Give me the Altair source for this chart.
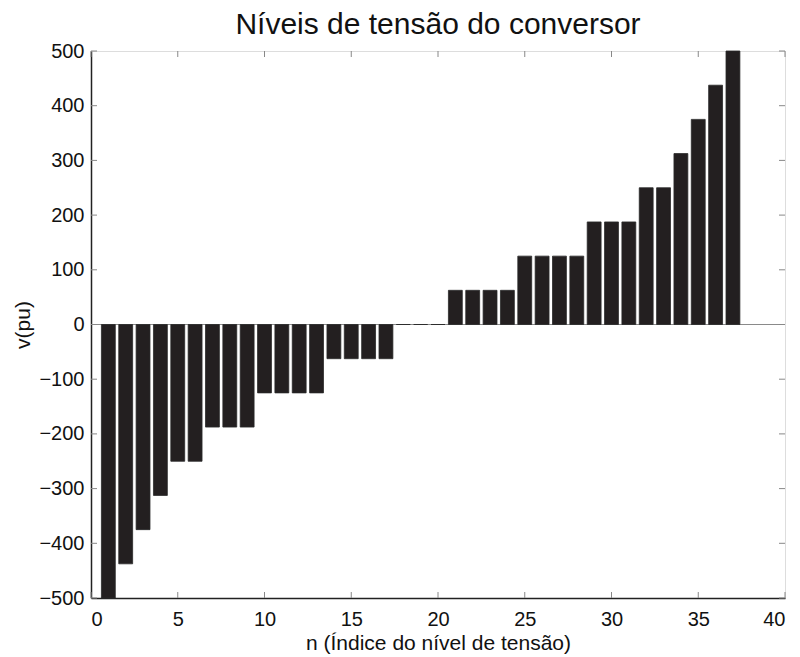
import altair as alt
import pandas as pd

n_values = list(range(1, 38))
v_values = [-500, -437.5, -375, -312.5, -250, -250, -187.5, -187.5, -187.5,
            -125, -125, -125, -125, -62.5, -62.5, -62.5, -62.5, 0, 0, 0,
            62.5, 62.5, 62.5, 62.5, 125, 125, 125, 125, 187.5, 187.5, 187.5,
            250, 250, 312.5, 375, 437.5, 500]
x_ticks = [0, 5, 10, 15, 20, 25, 30, 35, 40]
y_ticks = [-500, -400, -300, -200, -100, 0, 100, 200, 300, 400, 500]

W, H = 694, 547
FONT = "Liberation Sans"

bars_df = pd.DataFrame({"n": n_values, "v": v_values})
xt_df = pd.DataFrame({"t": x_ticks})
yt_df = pd.DataFrame({"t": y_ticks})

xscale = alt.Scale(domain=[0, 40], nice=False, zero=False)
yscale = alt.Scale(domain=[-500, 500], nice=False)

xaxis = alt.Axis(values=x_ticks, tickSize=0, labelFontSize=20, labelColor="#111",
                 labelFont=FONT, labelPadding=11, title="n (Índice do nível de tensão)",
                 titleFont=FONT, titleFontSize=21, titleFontWeight="normal", titleColor="#111",
                 titlePadding=3, domainColor="#222", domainWidth=1.5, grid=False)
yaxis = alt.Axis(values=y_ticks, tickSize=0, labelFontSize=20, labelColor="#111",
                 labelFont=FONT, labelPadding=7, title="v(pu)",
                 titleFont=FONT, titleFontSize=21, titleFontWeight="normal", titleColor="#111",
                 titlePadding=5, domainColor="#222", domainWidth=1.5, grid=False)

bars = alt.Chart(bars_df).transform_calculate(
    lo="datum.n - 0.4", hi="datum.n + 0.4"
).mark_rect(color="#231f20", stroke="#2a2a2a", strokeWidth=0.8).encode(
    x=alt.X("lo:Q", scale=xscale, axis=xaxis),
    x2="hi:Q",
    y=alt.Y("v:Q", scale=yscale, axis=yaxis),
    y2=alt.datum(0),
)

zero_line = alt.Chart(pd.DataFrame({"z": [0]})).mark_rule(color="#8a8a8a", strokeWidth=1).encode(
    y=alt.Y("z:Q", scale=yscale),
)

xt_bottom = alt.Chart(xt_df).mark_rule(color="#888", strokeWidth=1).encode(
    x=alt.X("t:Q", scale=xscale), y=alt.value(H), y2=alt.value(H - 6))
xt_top = alt.Chart(xt_df).mark_rule(color="#888", strokeWidth=1).encode(
    x=alt.X("t:Q", scale=xscale), y=alt.value(0), y2=alt.value(6))
yt_left = alt.Chart(yt_df).mark_rule(color="#888", strokeWidth=1).encode(
    y=alt.Y("t:Q", scale=yscale), x=alt.value(0), x2=alt.value(6))
yt_right = alt.Chart(yt_df).mark_rule(color="#888", strokeWidth=1).encode(
    y=alt.Y("t:Q", scale=yscale), x=alt.value(W), x2=alt.value(W - 6))

chart = alt.layer(zero_line, bars, xt_bottom, xt_top, yt_left, yt_right).properties(
    width=W, height=H,
    title=alt.TitleParams("Níveis de tensão do conversor", font=FONT, fontSize=30,
                          fontWeight="normal", color="#111", anchor="middle",
                          frame="group", offset=1),
    autosize=alt.AutoSizeParams(type="none"),
    padding={"left": 83, "top": 43, "right": 7, "bottom": 58},
).configure_view(stroke="#222", strokeWidth=1.5).configure(background="white")

chart.save("out.html", embed_options={"renderer": "svg", "actions": False})
